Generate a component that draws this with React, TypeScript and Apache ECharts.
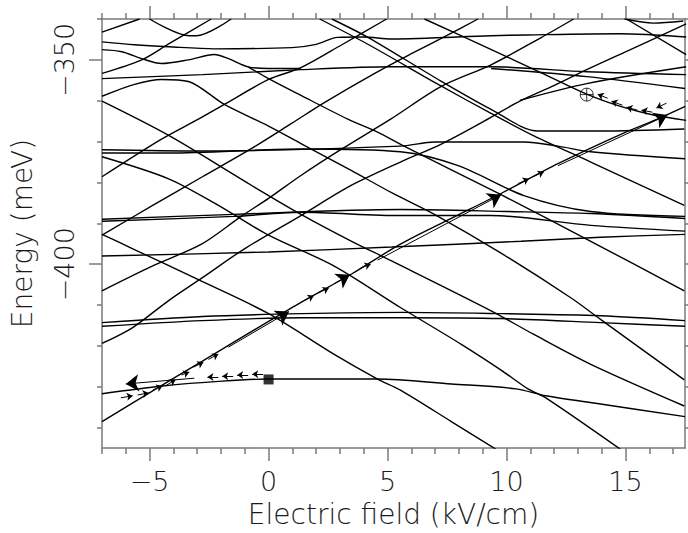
import React, { useEffect, useRef } from 'react';
import * as echarts from 'echarts';

type P = [number, number];

// ---- axis ticks ----
const xMajorTicks = [-5, 0, 5, 10, 15];
const xMinorTicks = [-7, -6, -4, -3, -2, -1, 1, 2, 3, 4, 6, 7, 8, 9, 11, 12, 13, 14, 16, 17];
const yMajorTicks = [-400, -350];
const yMinorTicks = [-440, -430, -420, -410, -390, -380, -370, -360, -340];

// ---- energy levels (x: kV/cm, y: meV) ----
const levelF1: P[] = [[-7.0, -431.7], [-4.46, -429.8], [-1.95, -428.6], [0, -428.1], [4.58, -428.1], [7.68, -429.3], [10.4, -430.5], [11.65, -432.2], [13.95, -434.2], [17.5, -437.3]];
const levelF2: P[] = [[-7, -414.3], [-2.78, -412.8], [1.4, -412.1], [5.59, -411.8], [9.77, -412.1], [13.95, -412.6], [17.5, -413.8]];
const levelF3: P[] = [[-7, -415.2], [-2.78, -413.8], [1.4, -413.1], [5.59, -413.1], [9.77, -413.3], [13.95, -414.3], [17.5, -415.2]];
const levelF10: P[] = [[-7, -398.0], [0, -397.0], [5.17, -395.8], [10.61, -394.4], [13.95, -393.4], [17.5, -392.7]];
const levelF4: P[] = [[-7, -389.0], [-1.44, -387.8], [5.54, -386.6], [10.06, -387.1], [13.54, -387.6], [17.5, -388.8]];
const levelF5: P[] = [[-7, -389.5], [-1.44, -388.3], [1.36, -387.3], [5.54, -388.1], [9.35, -388.1], [13.54, -390.5], [17.5, -391.9]];
const levelF6: P[] = [[-7, -372.0], [-2.82, -372.3], [5.54, -371.1], [6.97, -370.1], [10.73, -370.1], [12.16, -371.1], [13.54, -372.5], [17.5, -374.2]];
const levelF7: P[] = [[-7, -372.8], [-4.2, -372.8], [1.36, -371.8], [5.54, -372.5], [7.97, -375.9], [10.73, -383.2], [13.54, -387.1], [17.5, -388.3]];
const levelF8: P[] = [[-7, -354.6], [-2.78, -353.6], [1.36, -352.4], [5.17, -351.7], [9.35, -351.7], [13.37, -352.9], [17.55, -353.6]];
const levelF8b: P[] = [[9.35, -352.1], [13.37, -354.1], [17.5, -357.0]];
const levelF9: P[] = [[-7, -345.6], [-5.63, -346.3], [-4.2, -346.8], [-2.28, -347.3], [0.98, -347.0], [2.0, -346.2], [2.9, -344.5], [4.0, -344.4], [5.17, -344.9], [9.35, -344.1], [10.86, -343.9], [14.75, -343.6], [17.55, -344.4]];
const levelWavy: P[] = [[-7, -347.5], [-6.17, -348.0], [-5.33, -349.7], [-4.5, -350.9], [-3.37, -350.0], [-2.28, -348.7], [-1.69, -349.7], [-0.86, -351.7], [0, -352.1], [1.36, -352.1]];

const levelR1: P[] = [[-7, -438.5], [-4.87, -431.0], [-2.78, -423.7], [0, -414.0], [1.4, -409.2], [3.49, -402.4], [5.54, -395.1], [7.68, -388.8], [9.77, -382.7], [12.16, -375.4], [14.92, -367.9], [16.34, -364.5], [17.51, -361.4]];
const levelR2: P[] = [[-7, -419.4], [-5.71, -415.5], [-4.2, -408.9], [-2.78, -403.3], [-1.03, -396.3], [1.36, -388.1], [3.45, -380.8], [5.54, -375.0], [7.26, -370.6], [9.06, -365.0], [10.56, -360.1], [11.99, -356.3], [13.37, -352.4], [14.75, -348.7], [17.55, -341.2]];
const levelR3: P[] = [[-7, -406.5], [-4.87, -400.4], [-2.82, -395.1], [-1.15, -388.3], [0, -383.9], [1.36, -378.3], [3.08, -371.8], [5.13, -364.5], [7.26, -356.5], [9.35, -351.2], [11.44, -344.6], [12.82, -340.0]];
const levelR4: P[] = [[-7, -392.9], [-4.87, -385.6], [-2.78, -378.6], [-0.69, -371.6], [0.98, -365.5], [2.36, -360.4], [4.46, -353.3], [6.0, -348.5], [7.5, -344.0], [8.8, -340.0]];
const levelR5: P[] = [[-7, -378.6], [-4.5, -369.4], [-2.95, -364.5], [-1.86, -360.9], [0, -354.8], [1.36, -351.9], [3.08, -346.3], [4.96, -340]];
const levelR7: P[] = [[-7, -353.3], [-5.33, -350.0], [-4.2, -346.1], [-2.41, -340]];
const levelR8: P[] = [[-7, -343.2], [-5.42, -340]];
const levelRj: P[] = [[10.56, -359.9], [13.37, -355.8], [17.55, -351.7]];
const levelV: P[] = [[-5.0, -340], [-3.33, -344.1], [-3.03, -344.1], [-1.57, -340]];
// hump from the left edge that turns into a falling level
const levelHump: P[] = [[-7, -358.9], [-5.63, -356.0], [-4.5, -354.8], [-3.37, -355.3], [-1.86, -360.9], [0, -366.2], [1.4, -370.6], [3.49, -377.1], [5.17, -382.5], [6.97, -387.8], [9.77, -397.3], [12.7, -408.2], [13.95, -413.5], [17.47, -428.3]];

const levelD1: P[] = [[-7, -392.7], [-5.75, -396.1], [-2.95, -403.8], [0, -412.1], [2.74, -422.0], [4.58, -428.1], [5.54, -430.8], [7.68, -438.5], [9.56, -445.3]];
const levelD2: P[] = [[-7, -373.7], [-4.2, -379.1], [-2.11, -385.6], [0, -392.9], [2.74, -400.4], [5.54, -410.6], [8.1, -419.6], [9.77, -425.9], [10.9, -430.5], [11.65, -432.7], [14.79, -445.3]];
const levelD3: P[] = [[-7, -360.1], [-4.16, -368.6], [-0.69, -380.8], [1.36, -387.8], [3.49, -394.4], [5.17, -399.2], [9.35, -411.4], [11.15, -417.2], [13.54, -424.5], [17.47, -434.7]];
const levelD5: P[] = [[-0.86, -351.7], [0, -354.6], [1.36, -358.7], [3.33, -364.5], [4.58, -367.7], [5.59, -370.8], [9.77, -383.0], [13.54, -394.4], [17.47, -406.5]];
const levelD6: P[] = [[2.15, -340], [4.21, -346.3], [7.13, -356.0], [9.35, -363.1], [11.15, -368.6], [13.54, -375.0], [17.47, -385.6]];
const levelD7: P[] = [[2.66, -340], [4.21, -344.6], [7.13, -354.8], [9.35, -362.1], [11.32, -367.4], [13.95, -367.4], [17.47, -366.9]];
const levelD8: P[] = [[6.55, -340], [9.18, -347.0], [11.44, -353.1], [13.37, -358.4], [14.79, -361.4], [16.17, -363.5], [17.55, -364.8]];
const levelD10: P[] = [[15.04, -340], [17.55, -348.7]];
const levelTopArc: P[] = [[14.96, -340], [16.17, -341.0], [17.43, -340.5]];

const levels: P[][] = [
  levelF1, levelF2, levelF3, levelF10, levelF4, levelF5, levelF6, levelF7, levelF8, levelF8b, levelF9, levelWavy,
  levelR1, levelR2, levelR3, levelR4, levelR5, levelR7, levelR8, levelRj, levelV, levelHump,
  levelD1, levelD2, levelD3, levelD5, levelD6, levelD7, levelD8, levelD10, levelTopArc,
];

// ---- annotations ----
const startSquare: P[] = [[0, -428.2]];
const crossCircle: P[] = [[13.37, -358.5]];
const smallArrows: P[][] = [
  [[-2.11, -427.6], [-2.57, -427.6]],
  [[-1.49, -427.4], [-1.95, -427.4]],
  [[-0.86, -427.1], [-1.32, -427.1]],
  [[-0.23, -426.9], [-0.69, -426.9]],
  [[-6.21, -432.7], [-5.71, -432.2]],
  [[-5.5, -432.0], [-5.04, -431.5]],
  [[-4.87, -430.8], [-4.46, -429.8]],
  [[-4.29, -429.6], [-3.91, -428.3]],
  [[-3.66, -427.1], [-3.33, -426.4]],
  [[-3.16, -425.2], [-2.74, -424.0]],
  [[-2.53, -423.3], [-2.11, -422.0]],
  [[1.49, -408.9], [1.9, -407.7]],
  [[2.11, -407.0], [2.53, -405.8]],
  [[3.87, -400.9], [4.29, -400.0]],
  [[10.48, -380.3], [10.94, -379.1]],
  [[11.11, -378.6], [11.57, -377.4]],
  [[14.25, -359.4], [13.83, -358.4]],
  [[14.87, -361.1], [14.41, -360.1]],
  [[15.5, -362.3], [15.04, -361.6]],
  [[16.13, -362.8], [15.67, -362.3]],
  [[16.72, -360.6], [16.3, -361.8]],
];
const bigArrows: P[][] = [
  [[-3.12, -427.9], [-6.0, -429.3]],
  [[-1.69, -420.3], [0.86, -411.6]],
  [[2.8, -404.6], [3.41, -402.6]],
  [[4.58, -399.0], [9.77, -383.0]],
  [[12.16, -375.9], [16.76, -363.5]],
];

const FONT = "'DejaVu Sans', 'Liberation Sans', sans-serif";
const AXIS_COLOR = '#7a7a7a';
const TEXT_COLOR = '#1a1a1a';
const fmt = (v: number) => (v < 0 ? '\u2212' + Math.abs(v) : String(v));

export default function App() {
  const ref = useRef<HTMLDivElement>(null);
  useEffect(() => {
    document.body.style.margin = '0';
    const chart = echarts.init(ref.current!, null, { renderer: 'svg' });
    const axisLine = { show: true, onZero: false, lineStyle: { color: AXIS_COLOR, width: 1.5 } };
    const noLine = { show: false, onZero: false };
    const tickStyle = { color: AXIS_COLOR, width: 1.5 };
    const labelStyle = { fontSize: 27, fontFamily: FONT, fontWeight: 200 as any, color: TEXT_COLOR };
    const nameStyle = { fontSize: 28, fontFamily: FONT, fontWeight: 200 as any, color: TEXT_COLOR };
    const xBase = { type: 'value' as const, min: -7, max: 17.5, splitLine: { show: false } };
    const yBase = { type: 'value' as const, min: -445, max: -340, splitLine: { show: false } };

    const option: any = {
      animation: false,
      grid: { left: 99, right: 3, top: 19, bottom: 80, containLabel: false },
      xAxis: [
        {
          ...xBase, position: 'bottom', axisLine,
          axisTick: { show: true, customValues: xMajorTicks, length: 13, lineStyle: tickStyle },
          axisLabel: { show: true, customValues: xMajorTicks, formatter: fmt, margin: 20, ...labelStyle },
          name: 'Electric field (kV/cm)', nameLocation: 'middle', nameGap: 50, nameTextStyle: nameStyle,
        },
        {
          ...xBase, position: 'bottom', axisLine: noLine,
          axisTick: { show: true, customValues: xMinorTicks, length: 6, lineStyle: tickStyle },
          axisLabel: { show: false },
        },
        {
          ...xBase, position: 'top', axisLine,
          axisTick: { show: true, customValues: xMajorTicks, length: 13, lineStyle: tickStyle },
          axisLabel: { show: false },
        },
        {
          ...xBase, position: 'top', axisLine: noLine,
          axisTick: { show: true, customValues: xMinorTicks, length: 6, lineStyle: tickStyle },
          axisLabel: { show: false },
        },
      ],
      yAxis: [
        {
          ...yBase, position: 'left', axisLine,
          axisTick: { show: true, customValues: yMajorTicks, length: 13, lineStyle: tickStyle },
          axisLabel: {
            show: true, customValues: yMajorTicks, formatter: fmt, rotate: 90, margin: 24,
            align: 'center', verticalAlign: 'bottom', ...labelStyle,
          },
          name: 'Energy (meV)', nameLocation: 'middle', nameGap: 66, nameTextStyle: nameStyle,
        },
        {
          ...yBase, position: 'left', axisLine: noLine,
          axisTick: { show: true, customValues: yMinorTicks, length: 5, lineStyle: tickStyle },
          axisLabel: { show: false },
        },
        {
          ...yBase, position: 'right', axisLine,
          axisTick: { show: true, customValues: yMajorTicks, length: 5, lineStyle: tickStyle },
          axisLabel: { show: false },
        },
        {
          ...yBase, position: 'right', axisLine: noLine,
          axisTick: { show: true, customValues: yMinorTicks, length: 3, lineStyle: tickStyle },
          axisLabel: { show: false },
        },
      ],
      series: [
        ...levels.map((d) => ({
          type: 'line', data: d, xAxisIndex: 0, yAxisIndex: 0, smooth: 0.3, showSymbol: false, symbol: 'none',
          lineStyle: { color: '#000', width: 1.4 }, silent: true, clip: true, z: 2,
        })),
        {
          type: 'lines', coordinateSystem: 'cartesian2d', xAxisIndex: 0, yAxisIndex: 0,
          data: smallArrows.map((c) => ({ coords: c })), symbol: ['none', 'arrow'], symbolSize: 6,
          lineStyle: { color: '#000', width: 1, opacity: 1, curveness: 0 }, itemStyle: { color: '#000', opacity: 1 },
          silent: true, z: 3,
        },
        {
          type: 'lines', coordinateSystem: 'cartesian2d', xAxisIndex: 0, yAxisIndex: 0,
          data: bigArrows.map((c) => ({ coords: c })), symbol: ['none', 'arrow'], symbolSize: 13,
          lineStyle: { color: '#000', width: 1, opacity: 1, curveness: 0 }, itemStyle: { color: '#000', opacity: 1 },
          silent: true, z: 3,
        },
        {
          type: 'scatter', data: startSquare, xAxisIndex: 0, yAxisIndex: 0, symbol: 'rect', symbolSize: 10,
          itemStyle: { color: '#000' }, silent: true, z: 4,
        },
        {
          type: 'scatter', data: crossCircle, xAxisIndex: 0, yAxisIndex: 0,
          symbol: 'path://M0,-10A10,10,0,1,1,0,10A10,10,0,1,1,0,-10ZM-10,0L10,0M0,-10L0,10', symbolSize: 13,
          itemStyle: { color: 'rgba(0,0,0,0)', borderColor: '#000', borderWidth: 1 }, silent: true, z: 4,
        },
      ],
    };
    chart.setOption(option);
    return () => chart.dispose();
  }, []);
  return <div ref={ref} style={{ width: 688, height: 533 }} />;
}
